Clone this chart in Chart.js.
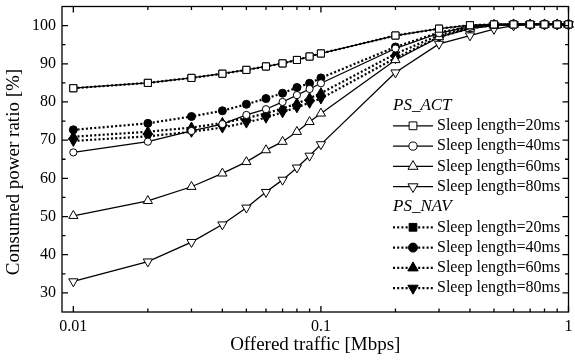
<!DOCTYPE html>
<html>
<head>
<meta charset="utf-8">
<script src="https://cdn.jsdelivr.net/npm/chart.js@4.4.0/dist/chart.umd.min.js"></script>
<style>
  html, body { margin: 0; padding: 0; background: #fff; }
  #wrap { width: 575px; height: 361px; }
</style>
</head>
<body>
<div id="wrap"><canvas id="grafico" width="575" height="361"></canvas></div>
<script>
// dados
const trafego = [0.01, 0.02, 0.03, 0.04, 0.05, 0.06, 0.07, 0.08, 0.09, 0.1, 0.2, 0.3, 0.4, 0.5, 0.6, 0.7, 0.8, 0.9, 1];

const act20 = [83.6, 85.0, 86.3, 87.4, 88.4, 89.3, 90.1, 91.0, 91.9, 92.7, 97.4, 99.2, 100.1, 100.3, 100.3, 100.3, 100.3, 100.3, 100.3];
const act40 = [66.8, 69.6, 72.4, 74.2, 76.6, 78.1, 80.0, 81.8, 83.4, 84.9, 94.0, 98.0, 99.7, 100.2, 100.3, 100.3, 100.3, 100.3, 100.3];
const act60 = [50.2, 54.1, 57.8, 61.3, 64.3, 67.4, 69.6, 72.2, 74.8, 77.0, 91.0, 97.0, 99.2, 100.0, 100.3, 100.3, 100.3, 100.3, 100.3];
const act80 = [33.0, 38.2, 43.3, 47.9, 52.3, 56.4, 59.6, 62.8, 65.9, 68.9, 87.7, 95.2, 97.4, 99.1, 100.0, 100.3, 100.3, 100.3, 100.3];

const nav20 = [83.6, 85.0, 86.3, 87.4, 88.4, 89.3, 90.1, 91.0, 91.9, 92.7, 97.4, 99.2, 100.1, 100.3, 100.3, 100.3, 100.3, 100.3, 100.3];
const nav40 = [72.7, 74.4, 76.2, 77.7, 79.4, 80.9, 82.3, 83.8, 84.9, 86.3, 94.4, 98.2, 99.8, 100.2, 100.3, 100.3, 100.3, 100.3, 100.3];
const nav60 = [70.9, 72.2, 73.3, 74.5, 75.8, 77.0, 78.3, 79.6, 81.0, 82.3, 92.6, 97.5, 99.5, 100.2, 100.3, 100.3, 100.3, 100.3, 100.3];
const nav80 = [69.8, 71.0, 72.2, 73.3, 74.6, 75.9, 77.3, 78.6, 79.8, 80.9, 91.5, 97.0, 99.3, 100.1, 100.3, 100.3, 100.3, 100.3, 100.3];

const rotulos = ['Sleep length=20ms', 'Sleep length=40ms', 'Sleep length=60ms', 'Sleep length=80ms'];
const grupos = ['PS_ACT', 'PS_NAV'];

const xTicks = [0.01, 0.1, 1];
const xMenores = [0.02, 0.03, 0.04, 0.05, 0.06, 0.07, 0.08, 0.09, 0.2, 0.3, 0.4, 0.5, 0.6, 0.7, 0.8, 0.9];
const yTicks = [30, 40, 50, 60, 70, 80, 90, 100];
const yMenores = [35, 45, 55, 65, 75, 85, 95];

const fonte = 'Liberation Serif';

function serie(label, valores, estilo, rot, raio, cheio, pontilhado) {
  return {
    label: label,
    data: trafego.map(function (x, i) { return { x: x, y: valores[i] }; }),
    borderColor: '#000',
    backgroundColor: cheio ? '#000' : '#fff',
    borderWidth: pontilhado ? 2.2 : 1.3,
    borderDash: pontilhado ? [2, 2.2] : [],
    pointStyle: estilo,
    pointRotation: rot,
    pointRadius: raio,
    pointBorderWidth: 1,
    pointBorderColor: '#000',
    pointBackgroundColor: cheio ? '#000' : '#fff',
    tension: 0,
    clip: false
  };
}

const datasets = [
  serie(rotulos[0], act20, 'rect', 0, 5, false, false),
  serie(rotulos[1], act40, 'circle', 0, 3.6, false, false),
  serie(rotulos[2], act60, 'triangle', 0, 5.3, false, false),
  serie(rotulos[3], act80, 'triangle', 180, 5.3, false, false),
  serie(rotulos[0], nav20, 'rect', 0, 5, true, true),
  serie(rotulos[1], nav40, 'circle', 0, 4, true, true),
  serie(rotulos[2], nav60, 'triangle', 0, 5.5, true, true),
  serie(rotulos[3], nav80, 'triangle', 180, 5.5, true, true)
];

// moldura com ticks para dentro nos quatro lados + titulo do eixo y
const moldura = {
  id: 'moldura',
  afterDraw(chart) {
    const ctx = chart.ctx;
    const a = chart.chartArea;
    const xs = chart.scales.x;
    const ys = chart.scales.y;
    ctx.save();
    ctx.strokeStyle = '#000';
    ctx.lineWidth = 1.3;
    ctx.strokeRect(a.left, a.top, a.right - a.left, a.bottom - a.top);

    function tickX(v, len) {
      const p = xs.getPixelForValue(v);
      ctx.beginPath();
      ctx.moveTo(p, a.bottom); ctx.lineTo(p, a.bottom - len);
      ctx.moveTo(p, a.top); ctx.lineTo(p, a.top + len);
      ctx.stroke();
    }
    function tickY(v, len) {
      const p = ys.getPixelForValue(v);
      ctx.beginPath();
      ctx.moveTo(a.left, p); ctx.lineTo(a.left + len, p);
      ctx.moveTo(a.right, p); ctx.lineTo(a.right - len, p);
      ctx.stroke();
    }
    xTicks.forEach(function (v) { tickX(v, 6); });
    xMenores.forEach(function (v) { tickX(v, 3.5); });
    yTicks.forEach(function (v) { tickY(v, 6); });
    yMenores.forEach(function (v) { tickY(v, 3.5); });

    ctx.fillStyle = '#000';
    ctx.font = '19px "' + fonte + '"';
    ctx.textAlign = 'center';
    ctx.textBaseline = 'middle';
    ctx.translate(14, 172);
    ctx.rotate(-Math.PI / 2);
    ctx.fillText('Consumed power ratio [%]', 0, 0);
    ctx.restore();
  }
};

// legenda agrupada (PS_ACT / PS_NAV)
const legenda = {
  id: 'legenda',
  afterDraw(chart) {
    const ctx = chart.ctx;
    const x0 = 393, x1 = 433, xm = 413, xt = 437;
    let y = 105.5;
    const passo = 20.3;
    ctx.save();
    ctx.fillStyle = '#000';
    ctx.textBaseline = 'middle';
    ctx.textAlign = 'left';
    chart.data.datasets.forEach(function (ds, i) {
      if (i % 4 === 0) {
        ctx.font = 'italic 17px "' + fonte + '"';
        ctx.fillStyle = '#000';
        ctx.fillText(grupos[i / 4], x0, y);
        y += passo;
      }
      ctx.strokeStyle = '#000';
      ctx.lineWidth = ds.borderWidth;
      ctx.setLineDash(ds.borderDash);
      ctx.beginPath();
      ctx.moveTo(x0, y); ctx.lineTo(x1, y);
      ctx.stroke();
      ctx.setLineDash([]);
      ctx.fillStyle = ds.pointBackgroundColor;
      ctx.lineWidth = 1;
      Chart.helpers.drawPoint(ctx, {
        pointStyle: ds.pointStyle,
        rotation: ds.pointRotation,
        radius: ds.pointRadius + 0.5,
        borderWidth: 1
      }, xm, y);
      ctx.fillStyle = '#000';
      ctx.font = '16px "' + fonte + '"';
      ctx.fillText(ds.label, xt, y);
      y += passo;
    });
    ctx.restore();
  }
};

new Chart(document.getElementById('grafico'), {
  type: 'line',
  data: { datasets: datasets },
  plugins: [moldura, legenda],
  options: {
    responsive: false,
    animation: false,
    layout: { padding: { top: 5, right: 1, left: 0, bottom: 0 } },
    plugins: {
      legend: { display: false },
      tooltip: { enabled: false }
    },
    scales: {
      x: {
        type: 'logarithmic',
        min: 0.009,
        max: 1,
        afterBuildTicks: function (s) { s.ticks = xTicks.map(function (v) { return { value: v }; }); },
        afterFit: function (s) { s.height = 49; s.paddingLeft = 0; s.paddingRight = 0; },
        grid: { display: false, drawTicks: false },
        border: { display: false },
        ticks: {
          color: '#000',
          font: { family: fonte, size: 16 },
          padding: 5,
          maxRotation: 0,
          autoSkip: false,
          callback: function (v) { return String(v); }
        },
        title: {
          display: true,
          text: 'Offered traffic [Mbps]',
          color: '#000',
          font: { family: fonte, size: 19 },
          padding: { top: 0, bottom: 5 }
        }
      },
      y: {
        min: 25,
        max: 105,
        afterBuildTicks: function (s) { s.ticks = yTicks.map(function (v) { return { value: v }; }); },
        afterFit: function (s) { s.width = 62; s.paddingTop = 0; s.paddingBottom = 0; },
        grid: { display: false, drawTicks: false },
        border: { display: false },
        ticks: {
          color: '#000',
          font: { family: fonte, size: 16 },
          padding: 6
        }
      }
    }
  }
});
</script>
</body>
</html>
